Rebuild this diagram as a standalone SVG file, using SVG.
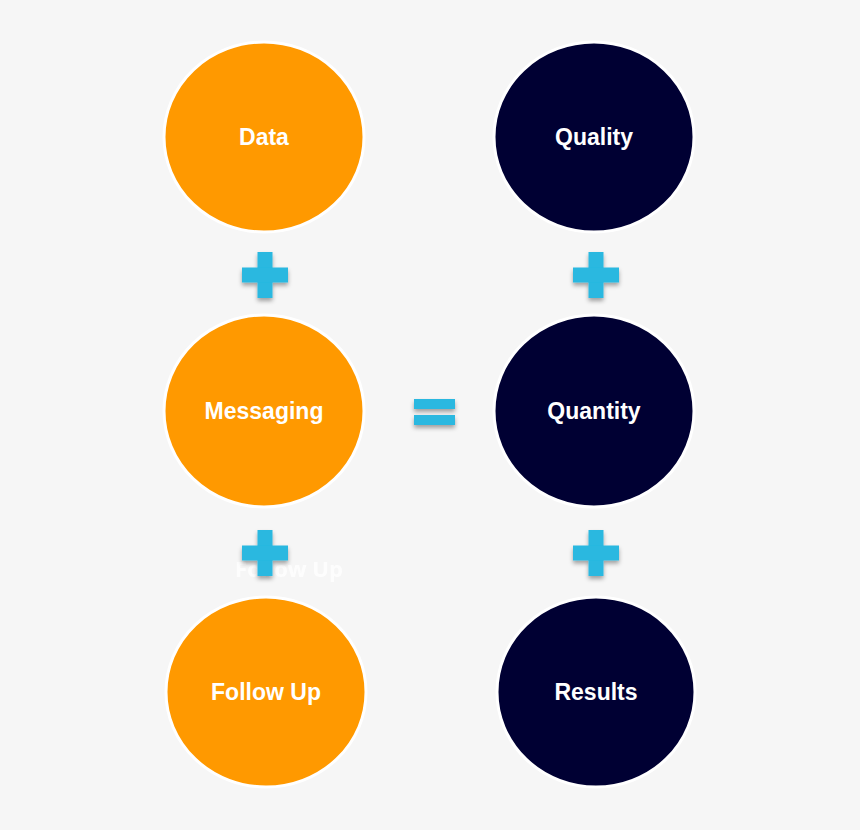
<svg xmlns="http://www.w3.org/2000/svg" width="860" height="830" viewBox="0 0 860 830">
<defs>
<filter id="sh" x="-30%" y="-30%" width="160%" height="170%">
<feDropShadow dx="0" dy="3" stdDeviation="2" flood-color="#000" flood-opacity="0.35"/>
</filter>
<g id="plus"><rect x="-7.5" y="-23" width="15" height="46"/><rect x="-23" y="-7.5" width="46" height="15"/></g>
</defs>
<style>
.bg{fill:#f6f6f6}
.or{fill:#ff9900;stroke:#ffffff;stroke-width:3}
.nv{fill:#000033;stroke:#ffffff;stroke-width:3}
.lb{font-family:"Liberation Sans",Arial,sans-serif;font-weight:bold;font-size:23px;fill:#ffffff;text-anchor:middle}
.op{fill:#29b8e0;filter:url(#sh)}
.ghost{font-family:"Open Sans","Liberation Sans",sans-serif;font-weight:bold;font-size:22px;fill:#ffffff;opacity:0.85;text-anchor:middle}
</style>
<rect class="bg" width="860" height="830"/>
<text class="ghost" x="289" y="577">Follow Up</text>
<g id="connectors">
<use href="#plus" class="op" x="265" y="275"/>
<use href="#plus" class="op" x="265" y="553"/>
<use href="#plus" class="op" x="596" y="275"/>
<use href="#plus" class="op" x="596" y="553"/>
<g class="op"><rect x="414" y="399" width="41" height="10"/><rect x="414" y="415" width="41" height="10"/></g>
</g>
<g id="data"><ellipse class="or" cx="264" cy="137" rx="100" ry="95"/><text class="lb" x="264" y="145">Data</text></g>
<g id="messaging"><ellipse class="or" cx="264" cy="411" rx="100" ry="96"/><text class="lb" x="264" y="419">Messaging</text></g>
<g id="followup"><ellipse class="or" cx="266" cy="692" rx="100" ry="95"/><text class="lb" x="266" y="700">Follow Up</text></g>
<g id="quality"><ellipse class="nv" cx="594" cy="137" rx="100" ry="95"/><text class="lb" x="594" y="145">Quality</text></g>
<g id="quantity"><ellipse class="nv" cx="594" cy="411" rx="100" ry="96"/><text class="lb" x="594" y="419">Quantity</text></g>
<g id="results"><ellipse class="nv" cx="596" cy="692" rx="99" ry="95"/><text class="lb" x="596" y="700">Results</text></g>
</svg>
